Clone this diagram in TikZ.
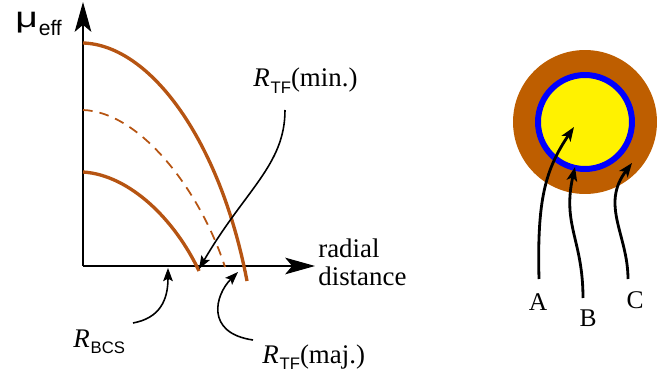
\documentclass[tikz,border=0pt]{standalone}
\usepackage{fontspec}
\setmainfont{Liberation Serif}
\newfontfamily\tmfont{Liberation Serif}
\newfontfamily\hvfont{Liberation Sans}
\usetikzlibrary{arrows.meta}

\definecolor{rust}{RGB}{182,84,18}
\definecolor{ochre}{RGB}{190,94,0}
\newcommand{\rlab}[1]{\textit{R}\kern0.5pt\raisebox{-3.5pt}{\fontsize{9.5}{10}\hvfont #1}}

\tikzset{
  axisline/.style={line width=0.6pt, -{Stealth[length=17pt,width=9.5pt,inset=4pt]}},
  profile/.style={rust, line width=1.9pt},
  pointer/.style={line width=0.9pt, -{Stealth[length=7.5pt,width=5.5pt,inset=1.5pt]}},
  bigpointer/.style={line width=1.6pt, -{Stealth[length=8pt,width=6pt,inset=2pt]}},
  lab/.style={font=\tmfont\fontsize{15.3}{16}\selectfont, inner sep=0pt},
  letter/.style={font=\tmfont\fontsize{14.5}{15}\selectfont, inner sep=0pt}
}

\begin{document}
\begin{tikzpicture}[x=0.02cm, y=-0.02cm]
\useasboundingbox (0,0) rectangle (670,375);
\begin{scope}
  % eixos
  \coordinate (orig) at (83,266);
  \coordinate (ytop) at (83,2);
  \coordinate (xend) at (315,266);
  \draw[axisline] (orig) -- (ytop);
  \draw[axisline] (orig) -- (xend);
  \node[anchor=base west, inner sep=0pt, font=\hvfont] (mu) at (15,28)
    {{\fontsize{16.5}{17}\selectfont\scalebox{1.35}[1]{μ}}\kern0.5pt\raisebox{-4.5pt}{\fontsize{12}{12}\selectfont eff}};
  \node[lab, anchor=west, align=left] (radial) at (318,262) {radial\\distance};

  % perfis
  \draw[profile] (83,43) .. controls (150,45) and (220,140) .. (247,281);
  \draw[rust, line width=1pt, dash pattern=on 5.5pt off 4pt]
    (83,110) .. controls (140,112) and (200,190) .. (225,267);
  \draw[profile] (83,172) .. controls (130,175) and (175,220) .. (199,271);

  % rotulos
  \node[lab, anchor=base west] (rmin) at (253,87) {\rlab{TF}(min.)};
  \node[lab, anchor=base west] (rmaj) at (262,363) {\rlab{TF}(maj.)};
  \node[lab, anchor=base west] (rbcs) at (73,347) {\rlab{BCS}};

  \coordinate (minT) at (285,110);
  \coordinate (minH) at (199,269);
  \coordinate (bcsT) at (133,323);
  \coordinate (bcsH) at (168,268);
  \coordinate (majT) at (253,340);
  \coordinate (majH) at (238,272);
  \draw[pointer] (minT) .. controls (285,165) and (245,190) .. (minH);
  \draw[pointer] (bcsT) .. controls (160,318) and (168,300) .. (bcsH);
  \draw[pointer] (majT) .. controls (205,333) and (215,295) .. (majH);
\end{scope}

\begin{scope}
  % nuvem
  \coordinate (ctr) at (585,122);
  \fill[ochre] (ctr) circle[radius=1.44cm];
  \draw[blue, line width=3.4pt, fill=yellow] (ctr) circle[radius=0.94cm];

  \node[letter] (la) at (538,302) {A};
  \node[letter] (lb) at (588,318) {B};
  \node[letter] (lc) at (635,300) {C};

  \coordinate (aT) at (539,279);
  \coordinate (aH) at (574,127);
  \coordinate (bT) at (583,298);
  \coordinate (bH) at (575,167);
  \coordinate (cT) at (628,279);
  \coordinate (cH) at (632,163);
  \draw[bigpointer] (aT) .. controls (537,200) and (545,170) .. (aH);
  \draw[bigpointer] (bT) .. controls (583,240) and (562,225) .. (bH);
  \draw[bigpointer] (cT) .. controls (628,235) and (600,205) .. (cH);
\end{scope}
\end{tikzpicture}
\end{document}
